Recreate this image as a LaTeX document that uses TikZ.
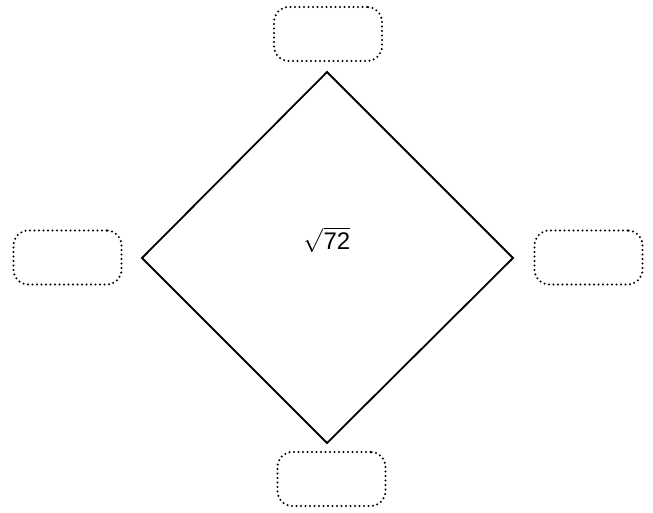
\documentclass[tikz,border=0pt]{standalone}
\usepackage{fontspec}
\setmainfont{Liberation Sans}
\usepackage{unicode-math}
\setmathfont{Latin Modern Math}
\setmathfont[range=up/num]{Liberation Sans}
\tikzset{
  slot/.style={draw, rounded corners=15pt, line width=2.3pt, line cap=round,
    dash pattern=on 0pt off 4.5pt, minimum width=108pt, minimum height=54pt,
    inner sep=0pt},
  edge/.style={line width=1.8pt, line join=miter}
}
\begin{document}
\begin{tikzpicture}[x=1pt, y=-1pt]
    \useasboundingbox (0,0) rectangle (653,512);
    \coordinate (T) at (327,72);
    \coordinate (R) at (513,258);
    \coordinate (B) at (327,443);
    \coordinate (L) at (142,258);

    \draw[edge] (T)--(R)--(B)--(L)--cycle;
    \node (val) at (327,240) {\fontsize{24}{28}\selectfont$\sqrt{72}$};

    \node[slot] (top) at (328,34) {};
    \node[slot] (left) at (67.5,257.5) {};
    \node[slot] (right) at (588.5,257.5) {};
    \node[slot] (bottom) at (331.5,479) {};
  \end{tikzpicture}
\end{document}
